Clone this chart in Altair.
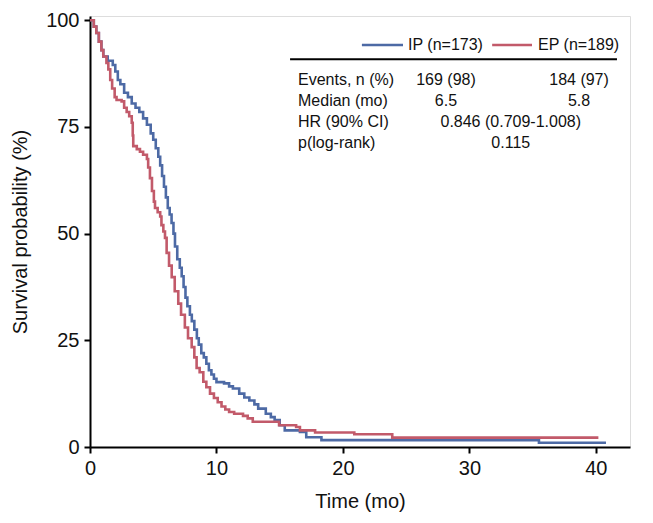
import altair as alt
import pandas as pd

# ---- data (time in months, survival in %) ----
ip_time = [0, 0.3, 0.5, 0.7, 0.9, 1.05, 1.4, 1.8, 2.0, 2.2, 2.4, 2.7, 3.0, 3.3, 3.6,
           3.9, 4.2, 4.5, 4.8, 5.0, 5.2, 5.4, 5.55, 5.7, 5.85, 6.0, 6.15, 6.3, 6.45,
           6.6, 6.72, 6.9, 7.1, 7.25, 7.4, 7.55, 7.7, 7.9, 8.05, 8.25, 8.45, 8.6, 8.8,
           9.0, 9.2, 9.4, 9.6, 9.8, 10.0, 10.6, 11.0, 11.3, 11.8, 12.2, 12.6, 13.0,
           13.3, 13.9, 14.3, 14.6, 15.0, 15.4, 16.6, 17.1, 18.3, 35.5, 40.8]
ip_surv = [100, 98.5, 97, 95, 93, 91.5, 90.5, 89.5, 88, 86, 85, 83, 82, 80.5, 79.5,
           78.5, 77, 75.5, 73.5, 72, 70, 68, 66, 63.5, 61, 58.5, 56, 54.5, 52.5,
           50, 47, 44, 42, 40, 37.5, 35, 33, 31, 29.5, 27.5, 25.5, 24, 22,
           21, 19.5, 18, 17, 16, 15.2, 14.9, 14.2, 13.7, 12.5, 11.6, 10.9, 10.0,
           9.0, 7.8, 7.0, 6.3, 5.1, 3.9, 3.5, 2.3, 1.6, 1.0, 1.0]

ep_time = [0, 0.3, 0.5, 0.7, 0.9, 1.05, 1.3, 1.45, 1.6, 1.75, 1.95, 2.1, 2.5, 2.7,
           2.9, 3.1, 3.3, 3.38, 3.42, 3.7, 3.95, 4.2, 4.5, 4.6, 4.74, 4.9, 5.05, 5.14,
           5.35, 5.55, 5.65, 5.8, 5.93, 6.06, 6.25, 6.46, 6.7, 6.98, 7.2, 7.5, 7.75,
           8.04, 8.25, 8.43, 8.67, 8.96, 9.2, 9.49, 9.8, 10.1, 10.4, 10.7, 11.0, 11.4,
           12.1, 12.47, 12.87, 14.95, 16.3, 16.6, 17.8, 20.9, 23.9, 40.2]
ep_surv = [100, 98.5, 97, 95, 93, 91.5, 90, 88.5, 86, 84, 82, 81.3, 81, 79.5,
           78.5, 77.5, 76, 73, 70.5, 69.8, 69.2, 68.5, 67.5, 65.5, 63, 60, 57.5, 56,
           55, 54, 52, 50.5, 49, 45.5, 42.5, 39.8, 36.5, 33.6, 31, 28, 25.5,
           23.4, 21, 18.5, 17.5, 15.3, 14, 12.5, 11.5, 10.5, 9.5, 8.8, 8.2, 7.8,
           7.3, 6.7, 5.9, 5.1, 4.7, 3.9, 3.4, 3.0, 2.2, 2.2]

series_names = ["IP", "EP"]
legend_labels = ["IP (n=173)", "EP (n=189)"]
colors = ["#4d6aa5", "#c25a6a"]

row_labels = ["Events, n (%)", "Median (mo)", "HR (90% CI)", "p(log-rank)"]
ip_values = ["169 (98)", "6.5"]
ep_values = ["184 (97)", "5.8"]
joint_values = ["0.846 (0.709-1.008)", "0.115"]

x_ticks = [0, 10, 20, 30, 40]
y_ticks = [0, 25, 50, 75, 100]

FONT = "Liberation Sans"

# ---- tables ----
curves = pd.concat([
    pd.DataFrame({"t": ip_time, "s": ip_surv, "g": "IP"}),
    pd.DataFrame({"t": ep_time, "s": ep_surv, "g": "EP"}),
])

color_scale = alt.Scale(domain=series_names, range=colors)
x_scale = alt.Scale(domain=[0, 42.7], nice=False, zero=False)
y_scale = alt.Scale(domain=[0, 101], nice=False, zero=False)

xax = alt.Axis(values=x_ticks, title="Time (mo)", grid=False, domainColor="black",
               domainWidth=2, tickColor="black", tickWidth=2, tickSize=6,
               labelFont=FONT, labelFontSize=20, labelColor="#111", labelPadding=5,
               titleFont=FONT, titleFontSize=20, titleFontWeight="normal",
               titleColor="#111", titlePadding=13, labelFlush=False)
yax = alt.Axis(values=y_ticks, title="Survival probability (%)", grid=False,
               domainColor="black", domainWidth=2, tickColor="black", tickWidth=2,
               tickSize=6, labelFont=FONT, labelFontSize=20, labelColor="#111",
               labelPadding=5, titleFont=FONT, titleFontSize=20,
               titleFontWeight="normal", titleColor="#111", titlePadding=15,
               labelFlush=False)

lines = alt.Chart(curves).mark_line(interpolate="step-after", strokeWidth=2.6).encode(
    x=alt.X("t:Q", scale=x_scale, axis=xax),
    y=alt.Y("s:Q", scale=y_scale, axis=yax),
    color=alt.Color("g:N", scale=color_scale, legend=None),
    detail="g:N",
)

# legend (manual, in data coordinates)
leg = pd.DataFrame({
    "g": series_names,
    "x1": [21.5, 31.8],
    "x2": [24.75, 34.95],
    "xt": [25.15, 35.43],
    "y": [94.2, 94.2],
    "label": legend_labels,
})
leg_lines = alt.Chart(leg).mark_rule(strokeWidth=2.6).encode(
    x=alt.X("x1:Q", scale=x_scale), x2="x2:Q",
    y=alt.Y("y:Q", scale=y_scale),
    color=alt.Color("g:N", scale=color_scale, legend=None),
)
leg_text = alt.Chart(leg).mark_text(align="left", baseline="middle", font=FONT,
                                    fontSize=16, color="#111").encode(
    x=alt.X("xt:Q", scale=x_scale), y=alt.Y("y:Q", scale=y_scale), text="label:N")

sep = pd.DataFrame({"x1": [15.82], "x2": [41.67], "y": [90.86]})
sep_rule = alt.Chart(sep).mark_rule(strokeWidth=2, color="black").encode(
    x=alt.X("x1:Q", scale=x_scale), x2="x2:Q", y=alt.Y("y:Q", scale=y_scale))

row_y = [86.0, 81.1, 76.2, 71.3]
cells = []
for i, lab in enumerate(row_labels):
    cells.append({"x": 16.45, "y": row_y[i], "text": lab, "a": "left"})
for i, v in enumerate(ip_values):
    cells.append({"x": 28.15, "y": row_y[i], "text": v, "a": "center"})
for i, v in enumerate(ep_values):
    cells.append({"x": 38.67, "y": row_y[i], "text": v, "a": "center"})
for i, v in enumerate(joint_values):
    cells.append({"x": 33.27, "y": row_y[i + 2], "text": v, "a": "center"})
cells = pd.DataFrame(cells)

left_txt = alt.Chart(cells[cells.a == "left"]).mark_text(
    align="left", baseline="middle", font=FONT, fontSize=16, color="#111").encode(
    x=alt.X("x:Q", scale=x_scale), y=alt.Y("y:Q", scale=y_scale), text="text:N")
center_txt = alt.Chart(cells[cells.a == "center"]).mark_text(
    align="center", baseline="middle", font=FONT, fontSize=16, color="#111").encode(
    x=alt.X("x:Q", scale=x_scale), y=alt.Y("y:Q", scale=y_scale), text="text:N")

chart = alt.layer(lines, leg_lines, leg_text, sep_rule, left_txt, center_txt).properties(
    width=540, height=431,
    autosize=alt.AutoSizeParams(type="none"),
    padding={"left": 82, "top": 8, "right": 15, "bottom": 66},
).configure_view(stroke=None).configure(background="white")

chart.save("out.html", embed_options={"renderer": "svg", "actions": False})
